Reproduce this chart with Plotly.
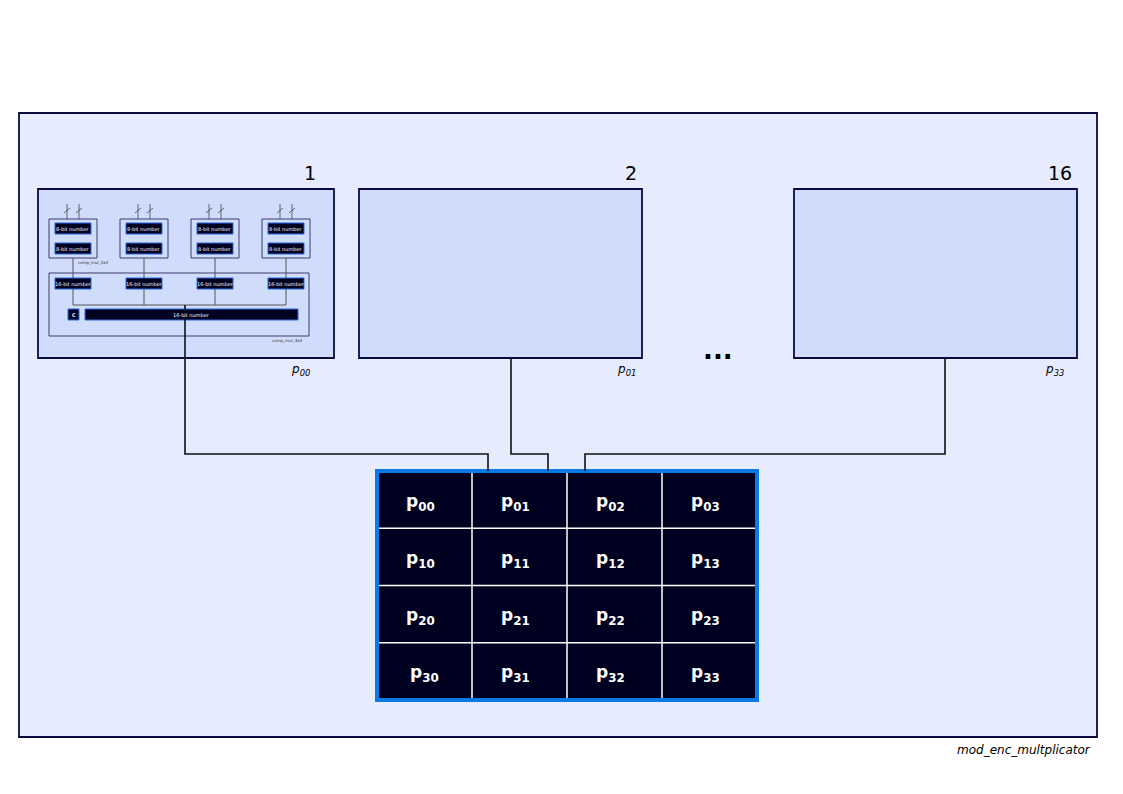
import plotly.graph_objects as go

# diagram labels
tile_numbers = ["1", "2", "16"]
tile_outputs = ["p<sub>00</sub>", "p<sub>01</sub>", "p<sub>33</sub>"]
grid_labels = [[f"p<sub>{r}{c}</sub>" for c in range(4)] for r in range(4)]
inner_small = ["8-bit number", "8-bit number"]
inner_wide = "16-bit number"
caption = "mod_enc_multplicator"

DARK = "#000020"
EDGE = "#0a0a40"
shapes, ann = [], []


def rect(x0, y0, x1, y1, fill, line=EDGE, w=1.5):
    shapes.append(dict(type="rect", x0=x0, y0=y0, x1=x1, y1=y1, fillcolor=fill,
                       line=dict(color=line, width=w), layer="below"))


def path(pts, color="#111", w=1.6):
    d = "M " + " L ".join(f"{x},{y}" for x, y in pts)
    shapes.append(dict(type="path", path=d, line=dict(color=color, width=w)))


def text(x, y, t, size=12, color="black", xanchor="center", italic=False, bold=False):
    if italic:
        t = f"<i>{t}</i>"
    if bold:
        t = f"<b>{t}</b>"
    ann.append(dict(x=x, y=y, text=t, showarrow=False, xanchor=xanchor, yanchor="middle",
                    font=dict(size=size, color=color, family="DejaVu Sans")))


# outer container
rect(19, 113, 1097, 737, "#e6ecfd", w=1.8)
text(1093, 750, caption, 12, xanchor="right", italic=True)

# tiles
tiles = [(38, 334), (359, 642), (794, 1077)]
num_x = [310, 631, 1060]
out_x = [300, 626, 1054]
for (x0, x1), n, nx, o, ox in zip(tiles, tile_numbers, num_x, tile_outputs, out_x):
    rect(x0, 189, x1, 358, "#d0dcfc", w=1.8)
    text(nx, 173, n, 19)
    text(ox, 370, o, 12, italic=True)
text(718, 350, "...", 26, bold=True)

# detail of tile 1
rect(49, 273, 309, 336, "#d0dcfc", line="#3a3a6a", w=1)
for gx in [49, 120, 191, 262]:
    rect(gx, 219, gx + 48, 258, "#d0dcfc", line="#3a3a6a", w=1)
    for yy, lbl in zip([223, 243], inner_small):
        rect(gx + 6, yy, gx + 42, yy + 11, DARK, line="#2a6ae0", w=1)
        text(gx + 24, yy + 5.5, lbl, 5, "white")
    for wx in [gx + 18, gx + 30]:
        path([(wx, 204), (wx, 219)], "#444", 0.8)
        path([(wx - 3, 213), (wx + 3, 208)], "#444", 0.8)
    rect(gx + 6, 278, gx + 42, 289, DARK, line="#2a6ae0", w=1)
    text(gx + 24, 283.5, inner_wide, 5, "white")
    path([(gx + 24, 258), (gx + 24, 278)], "#555", 1)
    path([(gx + 24, 289), (gx + 24, 305)], "#555", 1)
path([(73, 305), (286, 305)], "#555", 1)
rect(68, 309, 79, 320, DARK, line="#2a6ae0", w=1)
text(73.5, 314.5, "C", 5, "white", bold=True)
rect(85, 309, 298, 320, DARK, line="#2a6ae0", w=1)
text(191, 314.5, inner_wide, 5, "white")
text(76, 262, "comp_mul_2x4", 4, "#333", xanchor="left")
text(305, 340, "comp_mul_4x4", 4, "#333", xanchor="right")

# connections
path([(185, 305), (185, 454), (488, 454), (488, 471)])
path([(511, 358), (511, 454), (548, 454), (548, 471)])
path([(945, 358), (945, 454), (585, 454), (585, 471)])

# output grid
gx0, gy0, cw, ch = 377, 471, 95, 57.25
rect(gx0, gy0, gx0 + 4 * cw, gy0 + 4 * ch, DARK, line="#0a7ae6", w=4)
for i in range(1, 4):
    path([(gx0 + i * cw, gy0 + 2), (gx0 + i * cw, gy0 + 4 * ch - 2)], "white", 1.5)
    path([(gx0 + 2, gy0 + i * ch), (gx0 + 4 * cw - 2, gy0 + i * ch)], "white", 1.5)
for r, row in enumerate(grid_labels):
    for c, lbl in enumerate(row):
        dx = 4 if (r == 3 and c == 0) else 0
        text(gx0 + c * cw + 43 + dx, gy0 + r * ch + 31, lbl, 17, "white", bold=True)

fig = go.Figure()
fig.update_layout(
    width=1123, height=794, margin=dict(l=0, r=0, t=0, b=0),
    paper_bgcolor="white", plot_bgcolor="white",
    xaxis=dict(range=[8, 1131], visible=False, fixedrange=True),
    yaxis=dict(range=[802, 8], visible=False, fixedrange=True),
    shapes=shapes, annotations=ann, showlegend=False,
)
fig.write_html("out.html")
